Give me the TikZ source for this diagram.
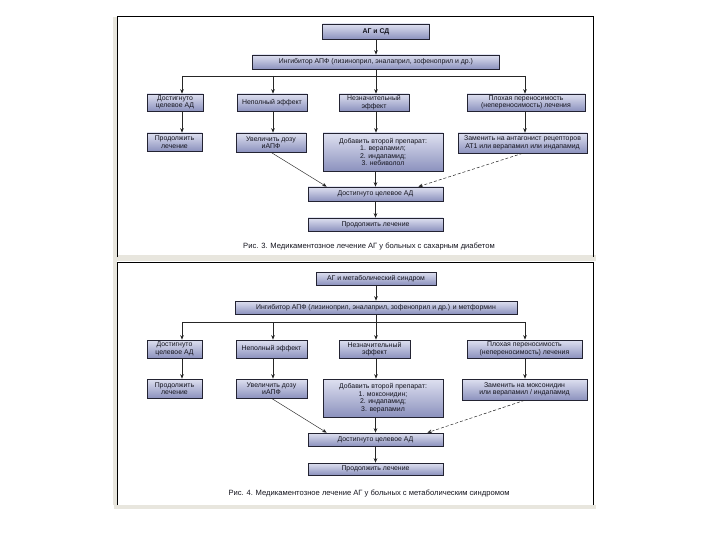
\documentclass[tikz,border=0pt]{standalone}
\usepackage{fontspec}
\setmainfont{Liberation Sans}
\usetikzlibrary{arrows.meta,calc}
\definecolor{boxline}{RGB}{35,35,50}
\definecolor{boxtop}{RGB}{222,224,240}
\definecolor{boxbot}{RGB}{140,146,190}
\definecolor{txt}{RGB}{20,20,30}
\definecolor{shadowc}{RGB}{232,230,222}
\begin{document}
\begin{tikzpicture}[x=1pt,y=-1pt,
  box/.style={draw=boxline, line width=0.7pt, top color=boxtop, bottom color=boxbot,
    inner sep=0.3pt, align=center, font=\fontsize{6.9}{7.6}\selectfont, text=txt},
  arr/.style={-{Stealth[length=4.5pt,width=3.6pt]}, line width=0.6pt, draw=black!85},
  plain/.style={line width=0.6pt, draw=black!85},
  dasharr/.style={arr, dash pattern=on 3pt off 2pt, line width=0.5pt},
  thinarr/.style={arr, line width=0.45pt},
  captxt/.style={font=\fontsize{7.6}{9}\selectfont, text=txt},
  frameline/.style={draw=black, line width=1pt}
]
\useasboundingbox (0,0) rectangle (720,540);
\fill[white] (0,0) rectangle (720,540);

% ---------- frames ----------
\fill[shadowc] (114,255) rectangle (596,261);
\fill[shadowc] (114,505) rectangle (596,509);
\fill[shadowc] (113,17) rectangle (117,505);
\draw[frameline] (117,257) -- (117,17) -- (593,17) -- (593,257);
\draw[frameline] (117,505) -- (117,262) -- (593,262) -- (593,505);

% ================= Diagram 1 =================
\node[box, font=\fontsize{6.9}{7.6}\selectfont\bfseries, minimum width=107pt, minimum height=15pt] (t1) at (376,31.5) {АГ и СД};
\node[box, minimum width=247pt, minimum height=14pt] (i1) at (376,62) {Ингибитор АПФ (лизиноприл, эналаприл, зофеноприл и др.)};

\coordinate (j1a) at (182,76);
\coordinate (j1b) at (273,76);
\coordinate (j1c) at (376,76);
\coordinate (j1d) at (525,76);

\node[box, minimum width=56pt, minimum height=17pt] (a11) at (175,102.5) {Достигнуто\\целевое АД};
\node[box, minimum width=70pt, minimum height=17pt] (a12) at (272,102.5) {Неполный эффект};
\node[box, minimum width=70pt, minimum height=17pt] (a13) at (374,102.5) {Незначительный\\эффект};
\node[box, minimum width=118pt, minimum height=17pt] (a14) at (526,102.5) {Плохая переносимость\\(непереносимость) лечения};

\node[box, minimum width=55pt, minimum height=18pt] (b11) at (174.5,142) {Продолжить\\лечение};
\node[box, minimum width=70pt, minimum height=19pt] (b12) at (271,142.5) {Увеличить дозу\\иАПФ};
\node[box, minimum width=120pt, minimum height=38pt] (b13) at (383,152) {Добавить второй препарат:\\1. верапамил;\\2. индапамид;\\3. небиволол};
\node[box, minimum width=129pt, minimum height=20pt] (b14) at (522.5,143) {Заменить на антагонист рецепторов\\АТ1 или верапамил или индапамид};

\node[box, minimum width=135pt, minimum height=14pt] (c1) at (375.5,194) {Достигнуто целевое АД};
\node[box, minimum width=135pt, minimum height=13pt] (d1) at (375.5,224.5) {Продолжить лечение};
\node[captxt] (cap1) at (369,247) {Рис. 3. Медикаментозное лечение АГ у больных с сахарным диабетом};

\draw[arr] (t1.south) -- (i1.north);
\draw[plain] (i1.south) -- (i1.south |- j1c);
\draw[plain] (j1a) -- (j1d);
\draw[arr] (j1a) -- (a11.north -| j1a);
\draw[arr] (j1b) -- (a12.north -| j1b);
\draw[arr] (j1c) -- (a13.north -| j1c);
\draw[arr] (j1d) -- (a14.north -| j1d);
\draw[arr] (a11.south -| j1a) -- (b11.north -| j1a);
\draw[arr] (a12.south -| j1b) -- (b12.north -| j1b);
\draw[arr] (a13.south -| j1c) -- (b13.north -| j1c);
\draw[arr] (a14.south -| j1d) -- (b14.north -| j1d);
\draw[arr] (b13.south -| c1.north) -- (c1.north);
\draw[arr] (c1.south) -- (d1.north);
\draw[thinarr] (b12.south) -- ($(c1.north west)+(19,0)$);
\draw[dasharr] (b14.south) -- ($(c1.north east)+(-25,0)$);

% ================= Diagram 2 =================
\node[box, minimum width=120pt, minimum height=13pt] (t2) at (376,278.5) {АГ и метаболический синдром};
\node[box, minimum width=282pt, minimum height=13pt] (i2) at (376,307.5) {Ингибитор АПФ (лизиноприл, эналаприл, зофеноприл и др.) и метформин};

\coordinate (j2a) at (182,322);
\coordinate (j2b) at (273,322);
\coordinate (j2c) at (376,322);
\coordinate (j2d) at (525,322);

\node[box, minimum width=55pt, minimum height=18pt] (a21) at (174.5,349) {Достигнуто\\целевое АД};
\node[box, minimum width=71pt, minimum height=18pt] (a22) at (271.5,349) {Неполный эффект};
\node[box, minimum width=71pt, minimum height=18pt] (a23) at (374.5,349) {Незначительный\\эффект};
\node[box, minimum width=115pt, minimum height=18pt] (a24) at (524.5,349) {Плохая переносимость\\(непереносимость) лечения};

\node[box, minimum width=55pt, minimum height=19pt] (b21) at (174.5,388.5) {Продолжить\\лечение};
\node[box, minimum width=71pt, minimum height=19pt] (b22) at (271.5,388.5) {Увеличить дозу\\иАПФ};
\node[box, minimum width=120pt, minimum height=38pt] (b23) at (383,398) {Добавить второй препарат:\\1. моксонидин;\\2. индапамид;\\3. верапамил};
\node[box, minimum width=125pt, minimum height=21pt] (b24) at (524.5,389.5) {Заменить на моксонидин\\или верапамил / индапамид};

\node[box, minimum width=135pt, minimum height=13pt] (c2) at (375.5,439.5) {Достигнуто целевое АД};
\node[box, minimum width=135pt, minimum height=12pt] (d2) at (375.5,469) {Продолжить лечение};
\node[captxt] (cap2) at (369,493) {Рис. 4. Медикаментозное лечение АГ у больных с метаболическим синдромом};

\draw[arr] (t2.south) -- (i2.north);
\draw[plain] (i2.south) -- (i2.south |- j2c);
\draw[plain] (j2a) -- (j2d);
\draw[arr] (j2a) -- (a21.north -| j2a);
\draw[arr] (j2b) -- (a22.north -| j2b);
\draw[arr] (j2c) -- (a23.north -| j2c);
\draw[arr] (j2d) -- (a24.north -| j2d);
\draw[arr] (a21.south -| j2a) -- (b21.north -| j2a);
\draw[arr] (a22.south -| j2b) -- (b22.north -| j2b);
\draw[arr] (a23.south -| j2c) -- (b23.north -| j2c);
\draw[arr] (a24.south -| j2d) -- (b24.north -| j2d);
\draw[arr] (b23.south -| c2.north) -- (c2.north);
\draw[arr] (c2.south) -- (d2.north);
\draw[thinarr] (b22.south) -- ($(c2.north west)+(19,0)$);
\draw[dasharr] (b24.south) -- ($(c2.north east)+(-16,0)$);
\end{tikzpicture}
\end{document}
